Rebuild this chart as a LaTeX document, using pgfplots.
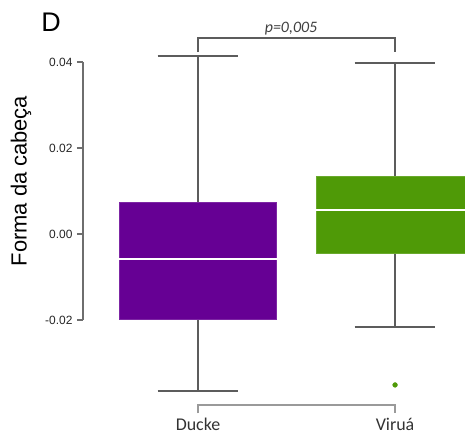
\documentclass[border=0pt]{standalone}
\usepackage{pgfplots}
\pgfplotsset{compat=1.18}
\usepackage{fontspec}
\setmainfont{Liberation Sans}
\newfontfamily\calibri{Carlito}
\definecolor{cpurple}{HTML}{660094}
\definecolor{cgreen}{HTML}{4F9A07}
\definecolor{wgray}{HTML}{5C5C5C}
\definecolor{agray}{HTML}{6E6E6E}
\definecolor{lgray}{HTML}{9A9A9A}
\begin{document}
\begin{tikzpicture}
\begin{axis}[
  scale only axis, width=382bp, height=258bp,
  xmin=0.416, xmax=2.355, ymin=-0.02, ymax=0.04,
  clip=false,
  axis x line=none, axis y line*=left,
  y axis line style={draw=agray, line width=1.5bp},
  ytick={-0.02,0,0.02,0.04},
  scaled y ticks=false,
  tick align=outside, major tick length=6bp,
  every tick/.style={draw=agray, line width=1.2bp},
  yticklabel style={font=\fontsize{12}{14}\selectfont, text=black!85, xshift=-1bp},
  /pgf/number format/.cd, fixed, fixed zerofill, precision=2, assume math mode=true,
  /pgfplots/.cd,
]
\coordinate (bl) at (rel axis cs:0,0);
\coordinate (tr) at (rel axis cs:1,1);
% Ducke: whiskers, box, median
\addplot[mark=none, draw=wgray, line width=2bp] coordinates {(1,0.0073) (1,0.0414)};
\addplot[mark=none, draw=wgray, line width=2bp] coordinates {(0.795,0.0414) (1.205,0.0414)};
\addplot[mark=none, draw=wgray, line width=2bp] coordinates {(1,-0.0198) (1,-0.0365)};
\addplot[mark=none, draw=wgray, line width=2bp] coordinates {(0.795,-0.0365) (1.205,-0.0365)};
\addplot[mark=none, fill=cpurple, draw=cpurple!85!white, line width=0.8bp] coordinates {(0.6,-0.0198) (1.4,-0.0198) (1.4,0.0073) (0.6,0.0073)} -- cycle;
\addplot[mark=none, draw=white, line width=2bp] coordinates {(0.6,-0.0059) (1.4,-0.0059)};
% Virua: whiskers, box, median
\addplot[mark=none, draw=wgray, line width=2bp] coordinates {(2,0.0135) (2,0.0398)};
\addplot[mark=none, draw=wgray, line width=2bp] coordinates {(1.795,0.0398) (2.205,0.0398)};
\addplot[mark=none, draw=wgray, line width=2bp] coordinates {(2,-0.0046) (2,-0.0216)};
\addplot[mark=none, draw=wgray, line width=2bp] coordinates {(1.795,-0.0216) (2.205,-0.0216)};
\addplot[mark=none, fill=cgreen, draw=cgreen!85!white, line width=0.8bp] coordinates {(1.6,-0.0046) (2.4,-0.0046) (2.4,0.0135) (1.6,0.0135)} -- cycle;
\addplot[mark=none, draw=white, line width=2bp] coordinates {(1.6,0.0056) (2.4,0.0056)};
% outlier
\addplot[only marks, mark=*, mark size=2.4bp, color=cgreen] coordinates {(2,-0.0351)};
% brackets
\addplot[mark=none, draw=wgray, line width=1.4bp] coordinates {(1,0.0423) (1,0.0456) (2,0.0456) (2,0.0423)};
\addplot[mark=none, draw=lgray, line width=1.4bp] coordinates {(1,-0.0417) (1,-0.0398) (2,-0.0398) (2,-0.0417)};
% texts
\node[font=\calibri\itshape\fontsize{16}{18}\selectfont, text=black!75] at (axis cs:1.472,0.0477) {p=0,005};
\node[font=\calibri\fontsize{18}{20}\selectfont, text=black!80, anchor=base] at (axis cs:1,-0.0456) {Ducke};
\node[font=\calibri\fontsize{18}{20}\selectfont, text=black!80, anchor=base] at (axis cs:2,-0.0456) {Viruá};
\node[font=\fontsize{22}{24}\selectfont, rotate=90] at (axis cs:0.1013,0.0123) {Forma da cabeça};
\node[font=\fontsize{27}{29}\selectfont] at (axis cs:0.2536,0.0493) {D};
\end{axis}
\pgfresetboundingbox
\path ([xshift=-83bp,yshift=-119bp]bl) rectangle ([yshift=62bp]tr);
\end{tikzpicture}
\end{document}
